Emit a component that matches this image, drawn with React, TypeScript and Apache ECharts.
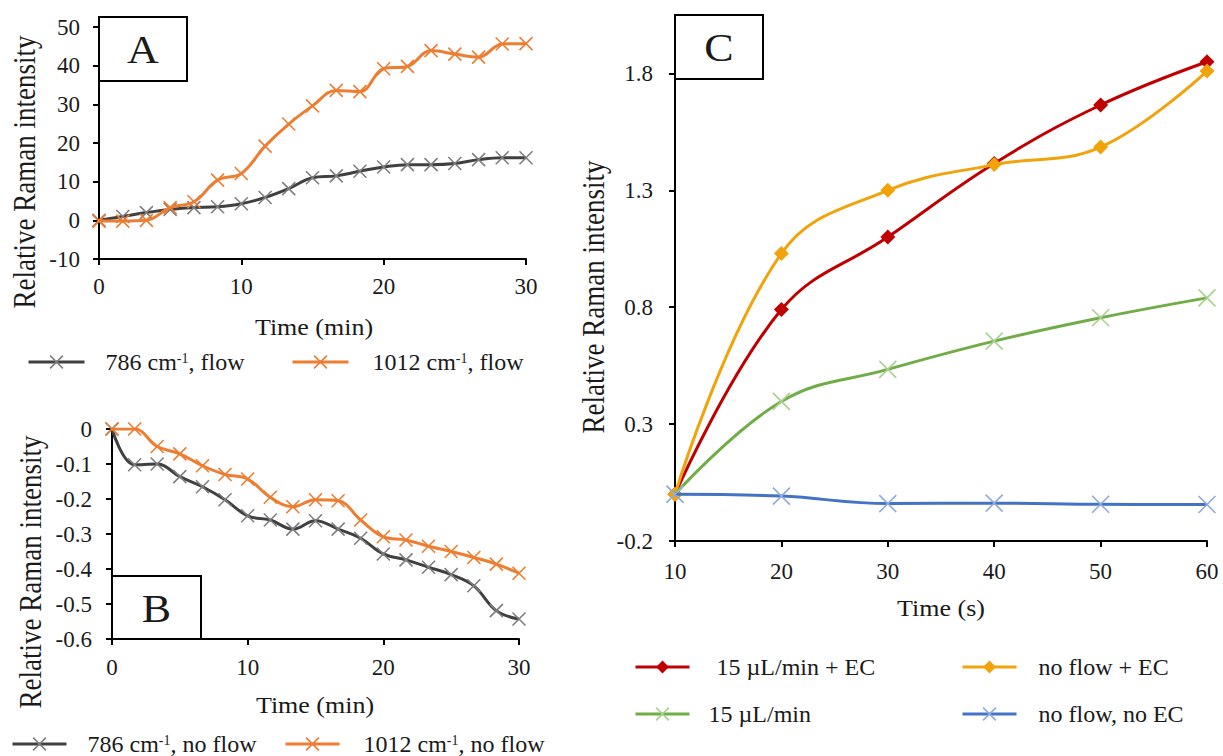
import React, { useEffect, useRef } from "react";
import * as echarts from "echarts";

// ---------- data ----------
const timeMin = [0, 1.67, 3.33, 5, 6.67, 8.33, 10, 11.67, 13.33, 15, 16.67, 18.33, 20, 21.67, 23.33, 25, 26.67, 28.33, 30];
const flow786 = [0, 1.0, 2.0, 2.8, 3.3, 3.5, 4.3, 5.9, 8.2, 11.0, 11.5, 12.7, 13.8, 14.4, 14.4, 14.7, 15.7, 16.2, 16.2];
const flow1012 = [-0.2, -0.2, 0, 3.3, 4.8, 10.4, 12.1, 19.2, 24.9, 29.6, 33.6, 33.3, 39.2, 39.8, 43.9, 43.0, 42.2, 45.6, 45.7];
const noFlow786 = [0, -0.102, -0.1, -0.136, -0.165, -0.202, -0.248, -0.26, -0.286, -0.262, -0.286, -0.312, -0.357, -0.374, -0.395, -0.416, -0.448, -0.519, -0.543];
const noFlow1012 = [0, 0, -0.05, -0.071, -0.105, -0.13, -0.143, -0.195, -0.222, -0.202, -0.205, -0.26, -0.308, -0.317, -0.335, -0.35, -0.367, -0.386, -0.412];

const timeS = [10, 20, 30, 40, 50, 60];
const flowEC = [0, 0.79, 1.1, 1.415, 1.665, 1.85];
const noFlowEC = [0, 1.03, 1.3, 1.41, 1.485, 1.81];
const flowOnly = [0, 0.397, 0.534, 0.655, 0.755, 0.84];
const noFlowNoEC = [0, -0.008, -0.04, -0.038, -0.043, -0.044];

const namesA = ["786 cm-1, flow", "1012 cm-1, flow"];
const namesB = ["786 cm-1, no flow", "1012 cm-1, no flow"];
const namesC = ["15 µL/min + EC", "no flow + EC", "15 µL/min", "no flow, no EC"];

// ---------- style ----------
const FONT = "Liberation Serif";
const INK = "#1a1a1a";
const FS_TICK = 23;
const FS_LEG = 24;
const LH = 22;
const X_PATH = "path://M0,0L10,10M10,0L0,10";

const GRAY = "#404040";
const GRAY_M = "#7f7f7f";
const ORANGE = "#ED7D31";
const RED = "#C00000";
const GOLD = "#F0A30A";
const GREEN = "#70AD47";
const GREEN_M = "#A9D18E";
const BLUE = "#4472C4";
const BLUE_M = "#8FAADC";

const pairs = (xs: number[], ys: number[]) => xs.map((x, i) => [x, ys[i]]);

const axisLine = { show: true, onZero: false, lineStyle: { color: "#000", width: 2 } };
const axisTick = { show: true, length: 6, lineStyle: { color: "#000", width: 2 } };
const labelBase = { fontFamily: FONT, fontSize: FS_TICK, color: INK };

function lineSeries(name: string, xi: number, xs: number[], ys: number[], color: string, mColor: string, symbol: string, size: number, z: number) {
  const isX = symbol === X_PATH;
  return {
    type: "line",
    name,
    xAxisIndex: xi,
    yAxisIndex: xi,
    data: pairs(xs, ys),
    smooth: 0.4,
    symbol,
    symbolSize: size,
    showAllSymbol: true,
    lineStyle: { color, width: 3 },
    itemStyle: isX
      ? { color: mColor, borderColor: mColor, borderWidth: 1.6 }
      : { color: mColor, borderColor: mColor, borderWidth: 0 },
    emphasis: { disabled: true },
    silent: true,
    z,
  };
}

function legendItem(name: string, left: number, yc: number, w: number, color: string, mColor: string, isX: boolean, textGap: number) {
  return {
    data: [name],
    left,
    top: yc - LH / 2,
    padding: 0,
    itemWidth: w,
    itemHeight: 16,
    selectedMode: false,
    itemStyle: isX
      ? { color: mColor, borderColor: mColor, borderWidth: 1.6 }
      : { color: mColor, borderColor: mColor, borderWidth: 0 },
    lineStyle: { color, width: 3 },
    textStyle: {
      fontFamily: FONT,
      fontSize: FS_LEG,
      color: INK,
      lineHeight: LH,
      rich: {
        gap: { width: textGap, fontFamily: FONT, fontSize: FS_LEG, lineHeight: LH },
        t: { fontFamily: FONT, fontSize: FS_LEG, color: INK, lineHeight: LH },
        sup: { fontFamily: FONT, fontSize: 14, color: INK, lineHeight: 12, verticalAlign: "top" },
      },
    },
    formatter: (n: string) => {
      const parts = n.split("cm-1");
      if (parts.length === 2) return "{gap|}{t|" + parts[0] + "cm}{sup|-1}{t|" + parts[1] + "}";
      return "{gap|}{t|" + n + "}";
    },
  };
}

function boxLabel(x: number, y: number, w: number, h: number, letter: string) {
  return [
    { type: "rect", shape: { x, y, width: w, height: h }, style: { fill: "#fff", stroke: "#000", lineWidth: 2 }, z: 100 },
    {
      type: "text",
      x: x + w / 2,
      y: y + h / 2 + 1,
      scaleX: 1.1,
      style: { text: letter, font: "40px 'Liberation Serif'", fill: INK, align: "center", verticalAlign: "middle", textAlign: "center", textVerticalAlign: "middle" },
      z: 101,
    },
  ];
}

function yTitle(text: string, x: number, y: number) {
  return {
    type: "text",
    x,
    y,
    rotation: Math.PI / 2,
    scaleY: 1.15,
    style: { text, font: "27px 'Liberation Serif'", fill: INK, align: "center", verticalAlign: "middle", textAlign: "center", textVerticalAlign: "middle" },
    z: 50,
  };
}

function xTitle(text: string, x: number, y: number) {
  return {
    type: "text",
    x,
    y,
    scaleX: 1.13,
    style: { text, font: "23px 'Liberation Serif'", fill: INK, align: "center", verticalAlign: "middle", textAlign: "center", textVerticalAlign: "middle" },
    z: 50,
  };
}

export default function App() {
  const ref = useRef<HTMLDivElement>(null);

  useEffect(() => {
    if (!ref.current) return;
    const chart = echarts.init(ref.current, undefined, { renderer: "svg" });

    const option = {
      animation: false,
      backgroundColor: "#fff",
      grid: [
        { left: 99, top: 27, width: 427, height: 232 },
        { left: 112, top: 429, width: 407, height: 210 },
        { left: 675, top: 15, width: 532, height: 526 },
      ],
      xAxis: [
        {
          type: "value", gridIndex: 0, min: 0, max: 30, interval: 10,
          axisLine, axisTick, splitLine: { show: false },
          axisLabel: { ...labelBase, margin: 16 },
        },
        {
          type: "value", gridIndex: 1, min: 0, max: 30, interval: 10,
          axisLine, axisTick, splitLine: { show: false },
          axisLabel: { ...labelBase, margin: 17 },
        },
        {
          type: "value", gridIndex: 2, min: 10, max: 60, interval: 10,
          axisLine, axisTick, splitLine: { show: false },
          axisLabel: { ...labelBase, margin: 19 },
        },
      ],
      yAxis: [
        {
          type: "value", gridIndex: 0, min: -10, max: 50, interval: 10,
          axisLine, axisTick, splitLine: { show: false },
          axisLabel: { ...labelBase, margin: 19 },
        },
        {
          type: "value", gridIndex: 1, min: -0.6, max: 0, interval: 0.1,
          axisLine, axisTick, splitLine: { show: false },
          axisLabel: {
            ...labelBase, margin: 20,
            formatter: (v: number) => (Math.abs(v) < 1e-9 ? "0" : v.toFixed(1)),
          },
        },
        {
          type: "value", gridIndex: 2, min: -0.2, max: 2.05, interval: 0.5,
          axisLine, axisTick, splitLine: { show: false },
          axisLabel: {
            ...labelBase, margin: 22, showMaxLabel: false,
            formatter: (v: number) => v.toFixed(1),
          },
        },
      ],
      legend: [
        legendItem(namesA[0], 27, 361, 56, GRAY, GRAY_M, true, 16),
        legendItem(namesA[1], 291, 361, 56, ORANGE, ORANGE, true, 19),
        legendItem(namesB[0], 11, 743, 54, GRAY, GRAY_M, true, 16),
        legendItem(namesB[1], 284, 743, 54, ORANGE, ORANGE, true, 19),
        legendItem(namesC[0], 634, 666, 54, RED, RED, false, 22),
        legendItem(namesC[1], 961, 666, 54, GOLD, GOLD, false, 17),
        legendItem(namesC[2], 634, 713, 54, GREEN, GREEN_M, true, 14),
        legendItem(namesC[3], 961, 713, 54, BLUE, BLUE_M, true, 17),
      ],
      series: [
        lineSeries(namesA[0], 0, timeMin, flow786, GRAY, GRAY_M, X_PATH, 13, 3),
        lineSeries(namesA[1], 0, timeMin, flow1012, ORANGE, ORANGE, X_PATH, 13, 4),
        lineSeries(namesB[0], 1, timeMin, noFlow786, GRAY, GRAY_M, X_PATH, 13, 3),
        lineSeries(namesB[1], 1, timeMin, noFlow1012, ORANGE, ORANGE, X_PATH, 13, 4),
        lineSeries(namesC[0], 2, timeS, flowEC, RED, RED, "diamond", 15, 3),
        lineSeries(namesC[1], 2, timeS, noFlowEC, GOLD, GOLD, "diamond", 15, 4),
        lineSeries(namesC[2], 2, timeS, flowOnly, GREEN, GREEN_M, X_PATH, 17, 5),
        lineSeries(namesC[3], 2, timeS, noFlowNoEC, BLUE, BLUE_M, X_PATH, 17, 6),
      ],
      graphic: [
        ...boxLabel(99, 17, 88, 64, "A"),
        ...boxLabel(112, 576, 89, 63, "B"),
        ...boxLabel(675, 15, 88, 64, "C"),
        yTitle("Relative Raman intensity", 24, 172),
        yTitle("Relative Raman intensity", 30, 572),
        yTitle("Relative Raman intensity", 593, 297),
        xTitle("Time (min)", 314, 327),
        xTitle("Time (min)", 315, 705),
        xTitle("Time (s)", 941, 608),
      ],
    };

    chart.setOption(option as any);
    return () => chart.dispose();
  }, []);

  return (
    <div
      ref={ref}
      style={{ position: "absolute", left: 0, top: 0, width: 1223, height: 756, background: "#fff" }}
    />
  );
}
